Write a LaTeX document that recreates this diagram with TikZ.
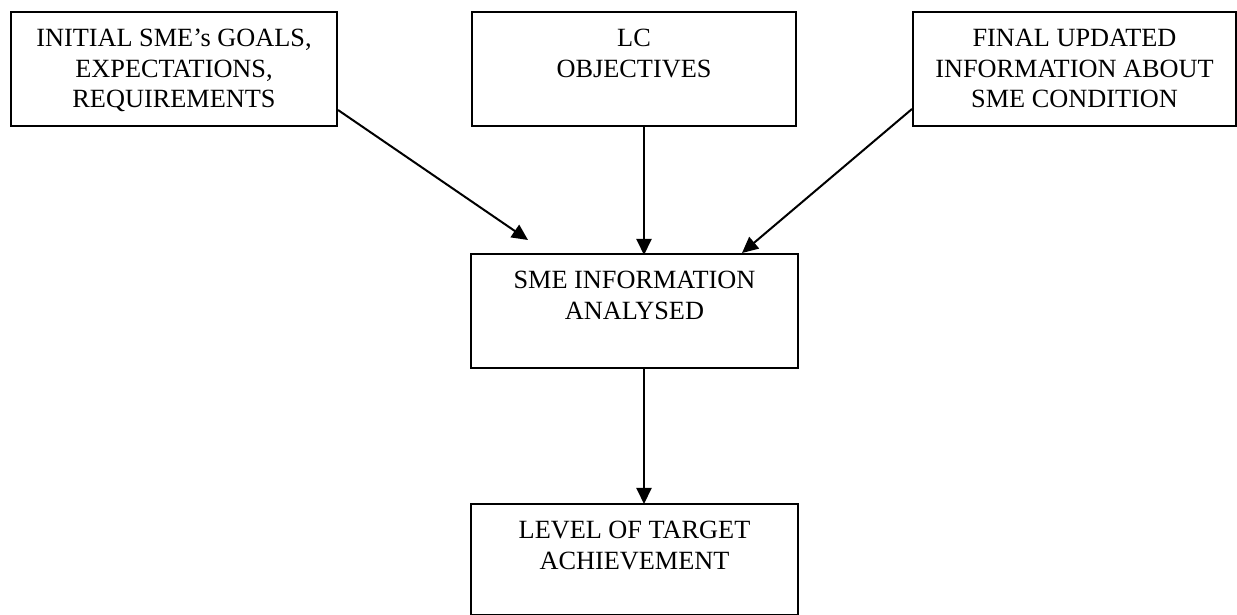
\documentclass[tikz,border=0pt]{standalone}
\usepackage{fontspec}
\setmainfont{Liberation Serif}
\usetikzlibrary{arrows.meta,calc}

% Box content: fixed-size minipage, text centred, first baseline 35pt below the top
\newcommand{\flowtext}[3]{%
  \begin{minipage}[t][#2][t]{#1}\centering
    \fontsize{26.3pt}{30.5pt}\selectfont\rule{0pt}{35pt}#3%
  \end{minipage}}

\tikzset{
  flowbox/.style={draw, line width=2pt, inner sep=0pt, anchor=north west},
  flowarrow/.style={line width=2pt, -{Triangle[length=16pt,width=15pt]}}
}

\begin{document}
\begin{tikzpicture}[x=1pt, y=1pt]
  \useasboundingbox (0,0) rectangle (1237,615);

  % top row of inputs
  \node[flowbox] (b1) at (10,604)  {\flowtext{326pt}{114pt}{INITIAL SME’s GOALS,\\ EXPECTATIONS,\\ REQUIREMENTS}};
  \node[flowbox] (b2) at (471,604) {\flowtext{324pt}{114pt}{LC\\ OBJECTIVES}};
  \node[flowbox] (b3) at (912,604) {\flowtext{323pt}{114pt}{FINAL UPDATED\\ INFORMATION ABOUT\\ SME CONDITION}};

  % analysis and result
  \node[flowbox] (b4) at (470,362) {\flowtext{327pt}{114pt}{SME INFORMATION\\ ANALYSED}};
  \node[flowbox] (b5) at (470,112) {\flowtext{327pt}{111pt}{LEVEL OF TARGET\\ ACHIEVEMENT}};

  % free end of the left arrow, just above the analysis box
  \coordinate (lt) at ($(b4.north)+(-106.5,13)$);

  \draw[flowarrow] ($(b1.south east)+(0,17)$) -- (lt);
  \draw[flowarrow] ($(b2.south)+(10,0)$) -- ($(b4.north)+(9.5,-2)$);
  \draw[flowarrow] ($(b3.south west)+(0,18)$) -- ($(b4.north east)+(-57,0)$);
  \draw[flowarrow] ($(b4.south)+(9.5,0)$) -- ($(b5.north)+(9.5,-1)$);
\end{tikzpicture}
\end{document}
